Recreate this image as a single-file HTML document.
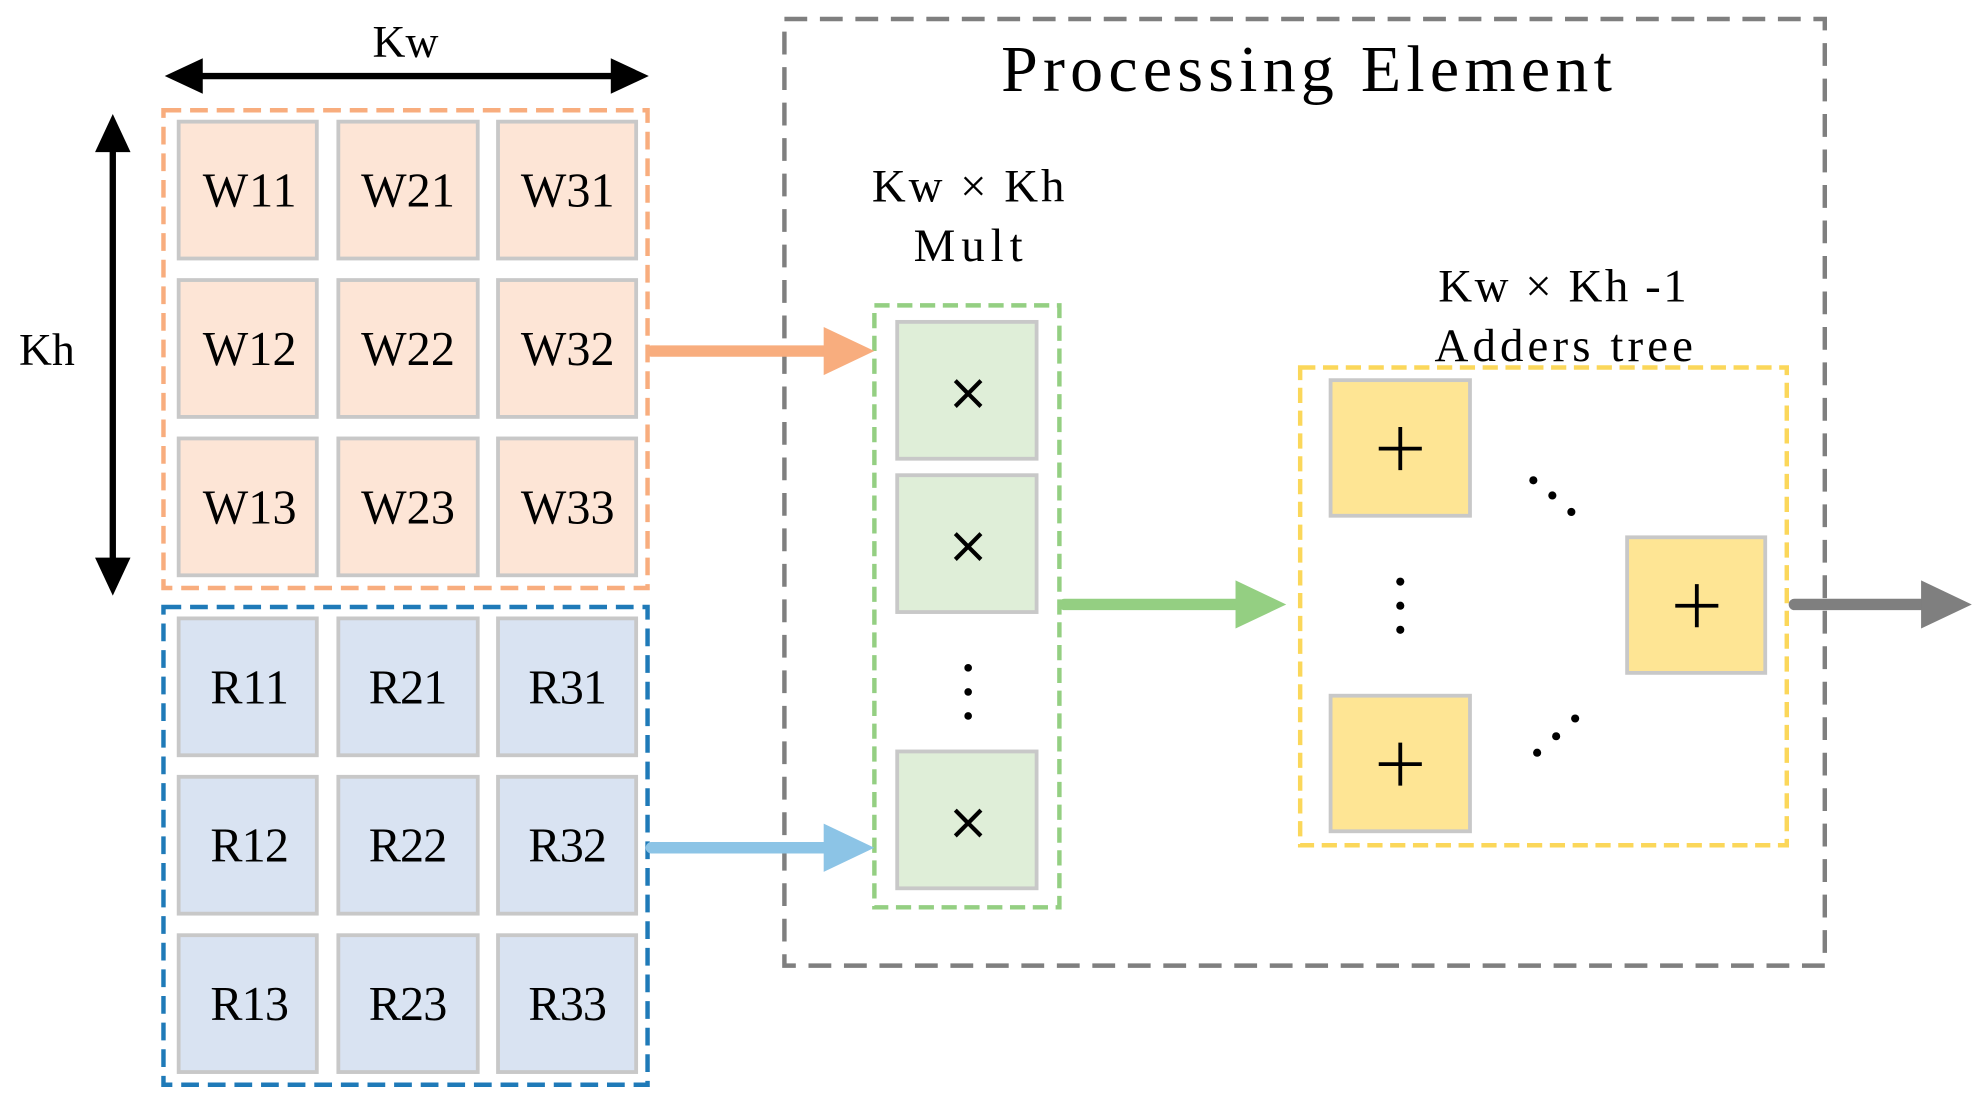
<!DOCTYPE html>
<html><head><style>html,body{margin:0;padding:0;background:#fff}svg{display:block}</style></head>
<body>
<svg width="1987" height="1105" viewBox="0 0 1568 872" preserveAspectRatio="none" xmlns="http://www.w3.org/2000/svg" font-family="Liberation Serif, serif">
<line x1="136" y1="60" x2="506" y2="60" stroke="#000" stroke-width="5"/>
<path d="M130,60 L160,46 L160,74 z M512,60 L482,46 L482,74 z" fill="#000"/>
<text x="320" y="45" font-size="36" text-anchor="middle">Kw</text>
<line x1="89" y1="96" x2="89" y2="464" stroke="#000" stroke-width="5"/>
<path d="M89,90 L75,120 L103,120 z M89,470 L75,440 L103,440 z" fill="#000"/>
<text x="37" y="288" font-size="36" text-anchor="middle">Kh</text>
<rect x="129" y="87" width="382" height="377" fill="none" stroke="#f8ad7e" stroke-width="3.5" stroke-dasharray="14,7"/>
<g fill="#fde5d6" stroke="#c8c8c8" stroke-width="3">
<rect x="141" y="96" width="109" height="108"/><rect x="267" y="96" width="110" height="108"/><rect x="393" y="96" width="109" height="108"/>
<rect x="141" y="221" width="109" height="108"/><rect x="267" y="221" width="110" height="108"/><rect x="393" y="221" width="109" height="108"/>
<rect x="141" y="346" width="109" height="108"/><rect x="267" y="346" width="110" height="108"/><rect x="393" y="346" width="109" height="108"/>
</g>
<g font-size="38" text-anchor="middle" fill="#000">
<text x="197" y="163" textLength="74">W11</text><text x="322" y="163" textLength="74">W21</text><text x="448" y="163" textLength="74">W31</text>
<text x="197" y="288" textLength="74">W12</text><text x="322" y="288" textLength="74">W22</text><text x="448" y="288" textLength="74">W32</text>
<text x="197" y="413" textLength="74">W13</text><text x="322" y="413" textLength="74">W23</text><text x="448" y="413" textLength="74">W33</text>
</g>
<rect x="129" y="479" width="382" height="377" fill="none" stroke="#1f7ab8" stroke-width="3.5" stroke-dasharray="14,7"/>
<g fill="#d9e3f2" stroke="#c8c8c8" stroke-width="3">
<rect x="141" y="488" width="109" height="108"/><rect x="267" y="488" width="110" height="108"/><rect x="393" y="488" width="109" height="108"/>
<rect x="141" y="613" width="109" height="108"/><rect x="267" y="613" width="110" height="108"/><rect x="393" y="613" width="109" height="108"/>
<rect x="141" y="738" width="109" height="108"/><rect x="267" y="738" width="110" height="108"/><rect x="393" y="738" width="109" height="108"/>
</g>
<g font-size="38" text-anchor="middle" fill="#000">
<text x="197" y="555" textLength="62">R11</text><text x="322" y="555" textLength="62">R21</text><text x="448" y="555" textLength="62">R31</text>
<text x="197" y="680" textLength="62">R12</text><text x="322" y="680" textLength="62">R22</text><text x="448" y="680" textLength="62">R32</text>
<text x="197" y="805" textLength="62">R13</text><text x="322" y="805" textLength="62">R23</text><text x="448" y="805" textLength="62">R33</text>
</g>
<rect x="619" y="15" width="821" height="747" fill="none" stroke="#7f7f7f" stroke-width="3.5" stroke-dasharray="18,10"/>
<text x="1031" y="72" font-size="52" text-anchor="middle" textLength="482">Processing Element</text>
<text x="764" y="159" font-size="37" text-anchor="middle" textLength="152">Kw × Kh</text>
<text x="764" y="206" font-size="37" text-anchor="middle" textLength="86">Mult</text>
<rect x="690" y="241" width="146" height="475" fill="none" stroke="#94cf82" stroke-width="3.5" stroke-dasharray="12,6"/>
<g fill="#dfeed8" stroke="#c8c8c8" stroke-width="3">
<rect x="708" y="254" width="110" height="108"/><rect x="708" y="375" width="110" height="108"/><rect x="708" y="593" width="110" height="108"/>
</g>
<g font-size="40" text-anchor="middle" font-family="DejaVu Sans, sans-serif"><text x="764" y="323">×</text><text x="764" y="444">×</text><text x="764" y="662">×</text></g>
<g fill="#000"><circle cx="764" cy="527" r="3"/><circle cx="764" cy="546" r="3"/><circle cx="764" cy="565" r="3"/></g>
<line x1="514" y1="277" x2="655" y2="277" stroke="#f8ad7e" stroke-width="9" stroke-linecap="round"/>
<path d="M650,258 L690,277 L650,296 z" fill="#f8ad7e"/>
<line x1="514" y1="669" x2="655" y2="669" stroke="#8cc4e6" stroke-width="9" stroke-linecap="round"/>
<path d="M650,650 L690,669 L650,688 z" fill="#8cc4e6"/>
<line x1="840" y1="477" x2="980" y2="477" stroke="#94cf82" stroke-width="9" stroke-linecap="round"/>
<path d="M975,458 L1015,477 L975,496 z" fill="#94cf82"/>
<line x1="1416" y1="477" x2="1520" y2="477" stroke="#7f7f7f" stroke-width="9" stroke-linecap="round"/>
<path d="M1516,458 L1556,477 L1516,496 z" fill="#7f7f7f"/>
<text x="1233" y="238" font-size="37" text-anchor="middle" textLength="196">Kw × Kh -1</text>
<text x="1234" y="285" font-size="37" text-anchor="middle" textLength="204">Adders tree</text>
<rect x="1026" y="290" width="384" height="377" fill="none" stroke="#fbd75a" stroke-width="3.5" stroke-dasharray="12,6"/>
<g fill="#fee594" stroke="#c8c8c8" stroke-width="3">
<rect x="1050" y="300" width="110" height="107"/><rect x="1050" y="549" width="110" height="107"/><rect x="1284" y="424" width="109" height="107"/>
</g>
<g stroke="#000" stroke-width="3">
<line x1="1105" y1="337" x2="1105" y2="371"/><line x1="1088" y1="354" x2="1122" y2="354"/>
<line x1="1105" y1="586" x2="1105" y2="620"/><line x1="1088" y1="603" x2="1122" y2="603"/>
<line x1="1339" y1="461" x2="1339" y2="495"/><line x1="1322" y1="478" x2="1356" y2="478"/>
</g>
<g fill="#000">
<circle cx="1105" cy="459" r="3.2"/><circle cx="1105" cy="478" r="3.2"/><circle cx="1105" cy="497" r="3.2"/>
<circle cx="1210" cy="379" r="3.2"/><circle cx="1225" cy="391" r="3.2"/><circle cx="1240" cy="404" r="3.2"/>
<circle cx="1213" cy="594" r="3.2"/><circle cx="1228" cy="581" r="3.2"/><circle cx="1243" cy="567" r="3.2"/>
</g>
</svg>
</body></html>
